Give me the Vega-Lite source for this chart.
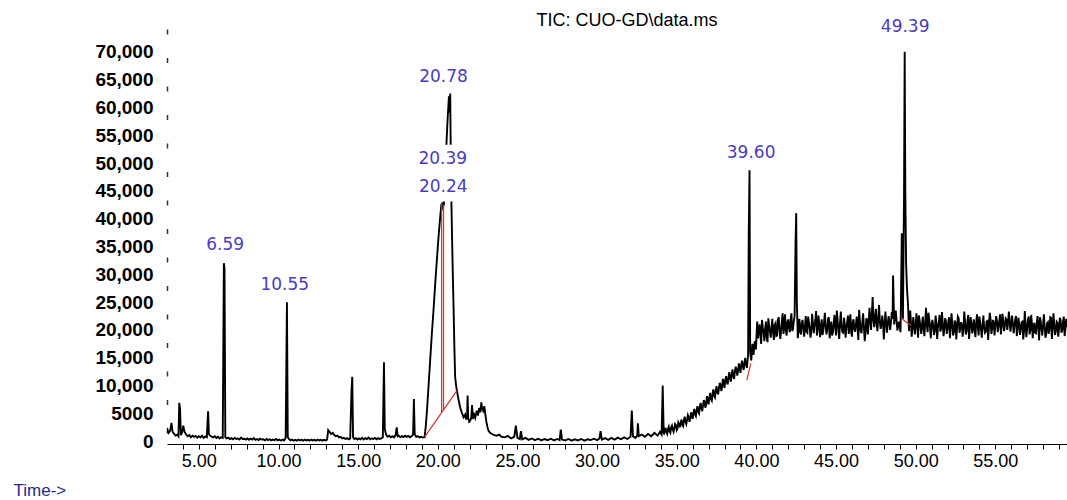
{
  "$schema": "https://vega.github.io/schema/vega-lite/v6.json",
  "width": 900,
  "height": 420,
  "autosize": {"type": "none"},
  "padding": {"left": 167, "top": 24, "right": 0, "bottom": 56},
  "background": "white",
  "config": {"view": {"stroke": null}},
  "title": {
    "text": "TIC: CUO-GD\\data.ms",
    "font": "Liberation Sans",
    "fontSize": 18,
    "fontWeight": "normal",
    "color": "#000000",
    "anchor": "middle",
    "frame": "group",
    "dx": 10,
    "offset": -17
  },
  "datasets": {
    "tic": [
      {"time": 3.00, "abundance": 2400}, {"time": 3.05, "abundance": 1800}, {"time": 3.10, "abundance": 1500}, {"time": 3.20, "abundance": 1900},
      {"time": 3.28, "abundance": 3300}, {"time": 3.35, "abundance": 1700}, {"time": 3.45, "abundance": 1300}, {"time": 3.55, "abundance": 1000},
      {"time": 3.65, "abundance": 1200}, {"time": 3.72, "abundance": 900}, {"time": 3.77, "abundance": 6900}, {"time": 3.82, "abundance": 5800},
      {"time": 3.87, "abundance": 1100}, {"time": 3.95, "abundance": 1600}, {"time": 4.02, "abundance": 2800}, {"time": 4.10, "abundance": 1700},
      {"time": 4.20, "abundance": 1200}, {"time": 4.30, "abundance": 900}, {"time": 4.40, "abundance": 1100}, {"time": 4.50, "abundance": 700},
      {"time": 4.60, "abundance": 1000}, {"time": 4.70, "abundance": 800}, {"time": 4.80, "abundance": 950}, {"time": 4.90, "abundance": 650},
      {"time": 5.00, "abundance": 900}, {"time": 5.10, "abundance": 700}, {"time": 5.20, "abundance": 1000}, {"time": 5.30, "abundance": 600},
      {"time": 5.40, "abundance": 850}, {"time": 5.50, "abundance": 700}, {"time": 5.58, "abundance": 5400}, {"time": 5.63, "abundance": 1300},
      {"time": 5.70, "abundance": 1000}, {"time": 5.80, "abundance": 800}, {"time": 5.90, "abundance": 700}, {"time": 6.00, "abundance": 900},
      {"time": 6.10, "abundance": 600}, {"time": 6.20, "abundance": 800}, {"time": 6.30, "abundance": 500}, {"time": 6.40, "abundance": 700},
      {"time": 6.50, "abundance": 600}, {"time": 6.57, "abundance": 32000}, {"time": 6.61, "abundance": 31000}, {"time": 6.66, "abundance": 700},
      {"time": 6.75, "abundance": 500}, {"time": 6.85, "abundance": 650}, {"time": 6.95, "abundance": 400}, {"time": 7.05, "abundance": 550},
      {"time": 7.15, "abundance": 350}, {"time": 7.25, "abundance": 600}, {"time": 7.35, "abundance": 400}, {"time": 7.45, "abundance": 500},
      {"time": 7.55, "abundance": 300}, {"time": 7.65, "abundance": 650}, {"time": 7.75, "abundance": 400}, {"time": 7.85, "abundance": 450},
      {"time": 7.95, "abundance": 300}, {"time": 8.05, "abundance": 500}, {"time": 8.15, "abundance": 250}, {"time": 8.25, "abundance": 450},
      {"time": 8.35, "abundance": 300}, {"time": 8.45, "abundance": 550}, {"time": 8.55, "abundance": 250}, {"time": 8.65, "abundance": 400},
      {"time": 8.75, "abundance": 200}, {"time": 8.85, "abundance": 450}, {"time": 8.95, "abundance": 300}, {"time": 9.05, "abundance": 350},
      {"time": 9.15, "abundance": 150}, {"time": 9.25, "abundance": 400}, {"time": 9.35, "abundance": 200}, {"time": 9.45, "abundance": 350},
      {"time": 9.55, "abundance": 150}, {"time": 9.65, "abundance": 300}, {"time": 9.75, "abundance": 200}, {"time": 9.85, "abundance": 400},
      {"time": 9.95, "abundance": 150}, {"time": 10.05, "abundance": 300}, {"time": 10.15, "abundance": 100}, {"time": 10.25, "abundance": 300},
      {"time": 10.35, "abundance": 150}, {"time": 10.45, "abundance": 600}, {"time": 10.53, "abundance": 25000}, {"time": 10.58, "abundance": 800},
      {"time": 10.65, "abundance": 400}, {"time": 10.75, "abundance": 150}, {"time": 10.85, "abundance": 300}, {"time": 10.95, "abundance": 100},
      {"time": 11.05, "abundance": 250}, {"time": 11.15, "abundance": 100}, {"time": 11.25, "abundance": 300}, {"time": 11.35, "abundance": 150},
      {"time": 11.45, "abundance": 250}, {"time": 11.55, "abundance": 100}, {"time": 11.65, "abundance": 300}, {"time": 11.75, "abundance": 150},
      {"time": 11.85, "abundance": 250}, {"time": 11.95, "abundance": 100}, {"time": 12.05, "abundance": 300}, {"time": 12.15, "abundance": 150},
      {"time": 12.25, "abundance": 250}, {"time": 12.35, "abundance": 100}, {"time": 12.45, "abundance": 300}, {"time": 12.55, "abundance": 150},
      {"time": 12.65, "abundance": 250}, {"time": 12.75, "abundance": 100}, {"time": 12.85, "abundance": 250}, {"time": 12.95, "abundance": 150},
      {"time": 13.05, "abundance": 300}, {"time": 13.12, "abundance": 2000}, {"time": 13.20, "abundance": 1700}, {"time": 13.30, "abundance": 1300},
      {"time": 13.40, "abundance": 1500}, {"time": 13.50, "abundance": 1100}, {"time": 13.60, "abundance": 900}, {"time": 13.70, "abundance": 1000},
      {"time": 13.80, "abundance": 700}, {"time": 13.90, "abundance": 800}, {"time": 14.00, "abundance": 500}, {"time": 14.10, "abundance": 600},
      {"time": 14.20, "abundance": 400}, {"time": 14.30, "abundance": 550}, {"time": 14.40, "abundance": 350}, {"time": 14.50, "abundance": 500},
      {"time": 14.58, "abundance": 8800}, {"time": 14.63, "abundance": 11600}, {"time": 14.68, "abundance": 700}, {"time": 14.75, "abundance": 400},
      {"time": 14.85, "abundance": 550}, {"time": 14.95, "abundance": 300}, {"time": 15.05, "abundance": 500}, {"time": 15.15, "abundance": 350},
      {"time": 15.25, "abundance": 600}, {"time": 15.35, "abundance": 300}, {"time": 15.45, "abundance": 550}, {"time": 15.55, "abundance": 400},
      {"time": 15.65, "abundance": 650}, {"time": 15.75, "abundance": 350}, {"time": 15.85, "abundance": 500}, {"time": 15.95, "abundance": 400},
      {"time": 16.05, "abundance": 600}, {"time": 16.15, "abundance": 350}, {"time": 16.25, "abundance": 550}, {"time": 16.35, "abundance": 400},
      {"time": 16.45, "abundance": 500}, {"time": 16.55, "abundance": 700}, {"time": 16.62, "abundance": 14200}, {"time": 16.67, "abundance": 2200},
      {"time": 16.75, "abundance": 1200}, {"time": 16.85, "abundance": 800}, {"time": 16.95, "abundance": 1000}, {"time": 17.05, "abundance": 700},
      {"time": 17.15, "abundance": 900}, {"time": 17.25, "abundance": 700}, {"time": 17.35, "abundance": 1100}, {"time": 17.42, "abundance": 2500},
      {"time": 17.48, "abundance": 900}, {"time": 17.55, "abundance": 1000}, {"time": 17.65, "abundance": 700}, {"time": 17.75, "abundance": 900},
      {"time": 17.85, "abundance": 750}, {"time": 17.95, "abundance": 1000}, {"time": 18.05, "abundance": 800}, {"time": 18.15, "abundance": 950},
      {"time": 18.25, "abundance": 700}, {"time": 18.35, "abundance": 900}, {"time": 18.45, "abundance": 1200}, {"time": 18.50, "abundance": 7600},
      {"time": 18.55, "abundance": 1200}, {"time": 18.65, "abundance": 800}, {"time": 18.75, "abundance": 900}, {"time": 18.85, "abundance": 700},
      {"time": 18.95, "abundance": 800}, {"time": 19.05, "abundance": 650}, {"time": 19.17, "abundance": 720},
      {"time": 19.25, "abundance": 2800}, {"time": 19.32, "abundance": 5500}, {"time": 19.42, "abundance": 10000}, {"time": 19.52, "abundance": 14500},
      {"time": 19.62, "abundance": 19000}, {"time": 19.73, "abundance": 23500}, {"time": 19.83, "abundance": 28000}, {"time": 19.94, "abundance": 32500},
      {"time": 20.04, "abundance": 36500}, {"time": 20.15, "abundance": 40300}, {"time": 20.22, "abundance": 42500}, {"time": 20.26, "abundance": 42700},
      {"time": 20.32, "abundance": 42000}, {"time": 20.38, "abundance": 42600}, {"time": 20.45, "abundance": 47000}, {"time": 20.52, "abundance": 52000},
      {"time": 20.60, "abundance": 57000}, {"time": 20.66, "abundance": 60000}, {"time": 20.70, "abundance": 62000}, {"time": 20.74, "abundance": 59000},
      {"time": 20.78, "abundance": 62500}, {"time": 20.80, "abundance": 56000}, {"time": 20.83, "abundance": 48000}, {"time": 20.86, "abundance": 42000},
      {"time": 20.92, "abundance": 33000}, {"time": 20.99, "abundance": 24000}, {"time": 21.04, "abundance": 17000}, {"time": 21.09, "abundance": 11500},
      {"time": 21.15, "abundance": 10000}, {"time": 21.20, "abundance": 9100}, {"time": 21.30, "abundance": 7500}, {"time": 21.40, "abundance": 6100},
      {"time": 21.50, "abundance": 5200}, {"time": 21.62, "abundance": 4300}, {"time": 21.72, "abundance": 4800}, {"time": 21.78, "abundance": 3900},
      {"time": 21.84, "abundance": 4500}, {"time": 21.87, "abundance": 8200}, {"time": 21.91, "abundance": 4100}, {"time": 21.97, "abundance": 3500},
      {"time": 22.03, "abundance": 3700}, {"time": 22.10, "abundance": 4200}, {"time": 22.15, "abundance": 6500}, {"time": 22.20, "abundance": 4000},
      {"time": 22.28, "abundance": 4800}, {"time": 22.35, "abundance": 4200}, {"time": 22.45, "abundance": 5500}, {"time": 22.52, "abundance": 4600},
      {"time": 22.60, "abundance": 6000}, {"time": 22.68, "abundance": 5200}, {"time": 22.73, "abundance": 7000}, {"time": 22.77, "abundance": 6200},
      {"time": 22.85, "abundance": 5500}, {"time": 22.92, "abundance": 6300}, {"time": 22.98, "abundance": 4900}, {"time": 23.05, "abundance": 3500},
      {"time": 23.12, "abundance": 2500}, {"time": 23.18, "abundance": 1900}, {"time": 23.28, "abundance": 1500}, {"time": 23.40, "abundance": 1300},
      {"time": 23.55, "abundance": 1100}, {"time": 23.70, "abundance": 1000}, {"time": 23.85, "abundance": 1200}, {"time": 24.00, "abundance": 800},
      {"time": 24.20, "abundance": 700}, {"time": 24.40, "abundance": 950}, {"time": 24.60, "abundance": 500}, {"time": 24.80, "abundance": 800},
      {"time": 24.90, "abundance": 2800}, {"time": 25.00, "abundance": 600}, {"time": 25.15, "abundance": 400}, {"time": 25.22, "abundance": 1800},
      {"time": 25.30, "abundance": 350}, {"time": 25.50, "abundance": 600}, {"time": 25.70, "abundance": 250}, {"time": 25.90, "abundance": 500},
      {"time": 26.10, "abundance": 200}, {"time": 26.30, "abundance": 450}, {"time": 26.50, "abundance": 150}, {"time": 26.70, "abundance": 400},
      {"time": 26.90, "abundance": 200}, {"time": 27.10, "abundance": 450}, {"time": 27.30, "abundance": 150}, {"time": 27.50, "abundance": 400},
      {"time": 27.65, "abundance": 200}, {"time": 27.72, "abundance": 2100}, {"time": 27.80, "abundance": 300}, {"time": 28.00, "abundance": 150},
      {"time": 28.20, "abundance": 400}, {"time": 28.40, "abundance": 100}, {"time": 28.60, "abundance": 350}, {"time": 28.80, "abundance": 150},
      {"time": 29.00, "abundance": 400}, {"time": 29.20, "abundance": 100}, {"time": 29.40, "abundance": 350}, {"time": 29.60, "abundance": 200},
      {"time": 29.80, "abundance": 450}, {"time": 30.00, "abundance": 200}, {"time": 30.15, "abundance": 500}, {"time": 30.22, "abundance": 1800},
      {"time": 30.30, "abundance": 300}, {"time": 30.50, "abundance": 550}, {"time": 30.70, "abundance": 250}, {"time": 30.90, "abundance": 600},
      {"time": 31.10, "abundance": 300}, {"time": 31.30, "abundance": 650}, {"time": 31.50, "abundance": 350}, {"time": 31.70, "abundance": 700},
      {"time": 31.90, "abundance": 400}, {"time": 32.10, "abundance": 800}, {"time": 32.18, "abundance": 5500}, {"time": 32.25, "abundance": 900},
      {"time": 32.40, "abundance": 600}, {"time": 32.52, "abundance": 1000}, {"time": 32.56, "abundance": 3200}, {"time": 32.62, "abundance": 900},
      {"time": 32.80, "abundance": 1200}, {"time": 33.00, "abundance": 800}, {"time": 33.20, "abundance": 1300}, {"time": 33.40, "abundance": 900},
      {"time": 33.60, "abundance": 1500}, {"time": 33.80, "abundance": 1000}, {"time": 33.95, "abundance": 1700}, {"time": 34.05, "abundance": 1200},
      {"time": 34.12, "abundance": 10000}, {"time": 34.18, "abundance": 1500},
      {"time": 34.20, "abundance": 1400}, {"time": 34.30, "abundance": 2400}, {"time": 34.40, "abundance": 1300}, {"time": 34.50, "abundance": 2600},
      {"time": 34.60, "abundance": 1500}, {"time": 34.70, "abundance": 2800}, {"time": 34.80, "abundance": 1700}, {"time": 34.90, "abundance": 3100},
      {"time": 35.00, "abundance": 2000}, {"time": 35.10, "abundance": 3400}, {"time": 35.20, "abundance": 2500}, {"time": 35.30, "abundance": 3900},
      {"time": 35.40, "abundance": 2700}, {"time": 35.50, "abundance": 4400}, {"time": 35.60, "abundance": 3100}, {"time": 35.70, "abundance": 4700},
      {"time": 35.80, "abundance": 3500}, {"time": 35.90, "abundance": 5200}, {"time": 36.00, "abundance": 4000}, {"time": 36.10, "abundance": 5800},
      {"time": 36.20, "abundance": 4500}, {"time": 36.30, "abundance": 6300}, {"time": 36.40, "abundance": 5000}, {"time": 36.50, "abundance": 6900},
      {"time": 36.60, "abundance": 5400}, {"time": 36.70, "abundance": 7400}, {"time": 36.80, "abundance": 6000}, {"time": 36.90, "abundance": 8100},
      {"time": 37.00, "abundance": 6600}, {"time": 37.10, "abundance": 8700}, {"time": 37.20, "abundance": 7300}, {"time": 37.30, "abundance": 9300},
      {"time": 37.40, "abundance": 7900}, {"time": 37.50, "abundance": 9900}, {"time": 37.60, "abundance": 8400}, {"time": 37.70, "abundance": 10500},
      {"time": 37.80, "abundance": 9000}, {"time": 37.90, "abundance": 11200}, {"time": 38.00, "abundance": 9600}, {"time": 38.10, "abundance": 11700},
      {"time": 38.20, "abundance": 10200}, {"time": 38.30, "abundance": 12400}, {"time": 38.40, "abundance": 10700}, {"time": 38.50, "abundance": 12900},
      {"time": 38.60, "abundance": 11200}, {"time": 38.70, "abundance": 13400}, {"time": 38.80, "abundance": 11800}, {"time": 38.90, "abundance": 14000},
      {"time": 39.00, "abundance": 12300}, {"time": 39.10, "abundance": 14500}, {"time": 39.20, "abundance": 12800}, {"time": 39.30, "abundance": 15000},
      {"time": 39.40, "abundance": 13200}, {"time": 39.48, "abundance": 15500}, {"time": 39.52, "abundance": 37400}, {"time": 39.57, "abundance": 48700},
      {"time": 39.61, "abundance": 16000}, {"time": 39.68, "abundance": 14500}, {"time": 39.75, "abundance": 17500}, {"time": 39.82, "abundance": 15500},
      {"time": 39.90, "abundance": 18000}, {"time": 39.97, "abundance": 16500}, {"time": 40.05, "abundance": 21500},
      {"time": 40.10, "abundance": 18500}, {"time": 40.20, "abundance": 21000}, {"time": 40.30, "abundance": 17500}, {"time": 40.40, "abundance": 20500},
      {"time": 40.50, "abundance": 18000}, {"time": 40.60, "abundance": 21500}, {"time": 40.70, "abundance": 17800}, {"time": 40.80, "abundance": 20800},
      {"time": 40.90, "abundance": 18600}, {"time": 41.00, "abundance": 22000}, {"time": 41.10, "abundance": 18200}, {"time": 41.20, "abundance": 21200},
      {"time": 41.30, "abundance": 19000}, {"time": 41.40, "abundance": 22300}, {"time": 41.50, "abundance": 18400}, {"time": 41.60, "abundance": 21600},
      {"time": 41.70, "abundance": 19300}, {"time": 41.80, "abundance": 22800}, {"time": 41.90, "abundance": 19000}, {"time": 42.00, "abundance": 21900},
      {"time": 42.10, "abundance": 19600}, {"time": 42.20, "abundance": 23000}, {"time": 42.30, "abundance": 20200}, {"time": 42.40, "abundance": 22500},
      {"time": 42.46, "abundance": 35800}, {"time": 42.50, "abundance": 41000}, {"time": 42.54, "abundance": 25000}, {"time": 42.60, "abundance": 18500},
      {"time": 42.70, "abundance": 22000}, {"time": 42.80, "abundance": 19200}, {"time": 42.90, "abundance": 21800}, {"time": 43.00, "abundance": 18800},
      {"time": 43.10, "abundance": 22500}, {"time": 43.20, "abundance": 19500}, {"time": 43.30, "abundance": 21300}, {"time": 43.40, "abundance": 18600},
      {"time": 43.50, "abundance": 22900}, {"time": 43.60, "abundance": 19400}, {"time": 43.70, "abundance": 21700}, {"time": 43.80, "abundance": 19000},
      {"time": 43.90, "abundance": 22600}, {"time": 44.00, "abundance": 18700}, {"time": 44.10, "abundance": 21900}, {"time": 44.20, "abundance": 19800},
      {"time": 44.30, "abundance": 23100}, {"time": 44.40, "abundance": 19200}, {"time": 44.50, "abundance": 22000}, {"time": 44.60, "abundance": 18500},
      {"time": 44.70, "abundance": 21500}, {"time": 44.80, "abundance": 19500}, {"time": 44.90, "abundance": 22700}, {"time": 45.00, "abundance": 19000},
      {"time": 45.10, "abundance": 21800}, {"time": 45.20, "abundance": 18400}, {"time": 45.30, "abundance": 23300}, {"time": 45.40, "abundance": 19600},
      {"time": 45.50, "abundance": 22200}, {"time": 45.60, "abundance": 18600}, {"time": 45.70, "abundance": 21400}, {"time": 45.80, "abundance": 19300},
      {"time": 45.90, "abundance": 22800}, {"time": 46.00, "abundance": 18800}, {"time": 46.10, "abundance": 21900}, {"time": 46.20, "abundance": 19700},
      {"time": 46.30, "abundance": 22400}, {"time": 46.40, "abundance": 18200}, {"time": 46.50, "abundance": 21600}, {"time": 46.60, "abundance": 19400},
      {"time": 46.70, "abundance": 23000}, {"time": 46.80, "abundance": 18000}, {"time": 46.90, "abundance": 22100}, {"time": 47.00, "abundance": 19200},
      {"time": 47.10, "abundance": 24000}, {"time": 47.20, "abundance": 20000}, {"time": 47.30, "abundance": 25900}, {"time": 47.40, "abundance": 20500},
      {"time": 47.50, "abundance": 23800}, {"time": 47.60, "abundance": 19800}, {"time": 47.70, "abundance": 24500}, {"time": 47.80, "abundance": 20200},
      {"time": 47.90, "abundance": 22600}, {"time": 48.00, "abundance": 18300}, {"time": 48.10, "abundance": 23300}, {"time": 48.20, "abundance": 19500},
      {"time": 48.30, "abundance": 22500}, {"time": 48.40, "abundance": 20000}, {"time": 48.50, "abundance": 23200}, {"time": 48.58, "abundance": 29800},
      {"time": 48.65, "abundance": 21000}, {"time": 48.75, "abundance": 23500}, {"time": 48.85, "abundance": 19900}, {"time": 48.95, "abundance": 21500},
      {"time": 49.05, "abundance": 19600}, {"time": 49.13, "abundance": 37400}, {"time": 49.20, "abundance": 22000}, {"time": 49.27, "abundance": 44600},
      {"time": 49.31, "abundance": 70000}, {"time": 49.35, "abundance": 44600}, {"time": 49.40, "abundance": 32000}, {"time": 49.45, "abundance": 27700},
      {"time": 49.52, "abundance": 24500}, {"time": 49.58, "abundance": 19800}, {"time": 49.66, "abundance": 23500}, {"time": 49.75, "abundance": 18800},
      {"time": 49.85, "abundance": 22300}, {"time": 49.95, "abundance": 19200}, {"time": 50.05, "abundance": 23000}, {"time": 50.15, "abundance": 18600},
      {"time": 50.25, "abundance": 21700}, {"time": 50.35, "abundance": 19300}, {"time": 50.45, "abundance": 22400}, {"time": 50.55, "abundance": 18900},
      {"time": 50.65, "abundance": 24000}, {"time": 50.75, "abundance": 19600}, {"time": 50.85, "abundance": 22000}, {"time": 50.95, "abundance": 18500},
      {"time": 51.05, "abundance": 21800}, {"time": 51.15, "abundance": 19100}, {"time": 51.25, "abundance": 22600}, {"time": 51.35, "abundance": 18400},
      {"time": 51.45, "abundance": 21200}, {"time": 51.55, "abundance": 19700}, {"time": 51.65, "abundance": 23200}, {"time": 51.75, "abundance": 18900},
      {"time": 51.85, "abundance": 22100}, {"time": 51.95, "abundance": 19300}, {"time": 52.05, "abundance": 21500}, {"time": 52.15, "abundance": 18500},
      {"time": 52.25, "abundance": 23000}, {"time": 52.35, "abundance": 19000}, {"time": 52.45, "abundance": 21700}, {"time": 52.55, "abundance": 18300},
      {"time": 52.65, "abundance": 22400}, {"time": 52.75, "abundance": 19500}, {"time": 52.85, "abundance": 21400}, {"time": 52.95, "abundance": 18800},
      {"time": 53.05, "abundance": 23300}, {"time": 53.15, "abundance": 19200}, {"time": 53.25, "abundance": 21600}, {"time": 53.35, "abundance": 18400},
      {"time": 53.45, "abundance": 22300}, {"time": 53.55, "abundance": 19400}, {"time": 53.65, "abundance": 21900}, {"time": 53.75, "abundance": 18700},
      {"time": 53.85, "abundance": 22800}, {"time": 53.95, "abundance": 19000}, {"time": 54.05, "abundance": 21300}, {"time": 54.15, "abundance": 18600},
      {"time": 54.25, "abundance": 22600}, {"time": 54.35, "abundance": 19500}, {"time": 54.45, "abundance": 21500}, {"time": 54.55, "abundance": 18200},
      {"time": 54.65, "abundance": 23100}, {"time": 54.75, "abundance": 19300}, {"time": 54.85, "abundance": 21800}, {"time": 54.95, "abundance": 19000},
      {"time": 55.05, "abundance": 22500}, {"time": 55.15, "abundance": 19600}, {"time": 55.25, "abundance": 21700}, {"time": 55.35, "abundance": 19200},
      {"time": 55.45, "abundance": 22900}, {"time": 55.55, "abundance": 19800}, {"time": 55.65, "abundance": 22100}, {"time": 55.75, "abundance": 20000},
      {"time": 55.85, "abundance": 23300}, {"time": 55.95, "abundance": 19700}, {"time": 56.05, "abundance": 22600}, {"time": 56.15, "abundance": 19400},
      {"time": 56.25, "abundance": 21800}, {"time": 56.35, "abundance": 18900}, {"time": 56.45, "abundance": 22200}, {"time": 56.55, "abundance": 19100},
      {"time": 56.65, "abundance": 21400}, {"time": 56.75, "abundance": 18300}, {"time": 56.85, "abundance": 23400}, {"time": 56.95, "abundance": 18700},
      {"time": 57.05, "abundance": 21900}, {"time": 57.15, "abundance": 19200}, {"time": 57.25, "abundance": 22700}, {"time": 57.35, "abundance": 18500},
      {"time": 57.45, "abundance": 21300}, {"time": 57.55, "abundance": 19400}, {"time": 57.65, "abundance": 22500}, {"time": 57.75, "abundance": 18100},
      {"time": 57.85, "abundance": 21600}, {"time": 57.95, "abundance": 19000}, {"time": 58.05, "abundance": 22800}, {"time": 58.15, "abundance": 18600},
      {"time": 58.25, "abundance": 21200}, {"time": 58.35, "abundance": 19300}, {"time": 58.45, "abundance": 22300}, {"time": 58.55, "abundance": 18400},
      {"time": 58.65, "abundance": 23000}, {"time": 58.75, "abundance": 19100}, {"time": 58.85, "abundance": 21500}, {"time": 58.95, "abundance": 18800},
      {"time": 59.05, "abundance": 22200}, {"time": 59.15, "abundance": 19500}, {"time": 59.25, "abundance": 21400}, {"time": 59.35, "abundance": 18900},
      {"time": 59.45, "abundance": 22000}, {"time": 59.50, "abundance": 20500},
      {"time": 34.25, "abundance": 1900}, {"time": 34.35, "abundance": 1600}, {"time": 34.45, "abundance": 2200}, {"time": 34.55, "abundance": 1800},
      {"time": 34.65, "abundance": 2500}, {"time": 34.75, "abundance": 2100}, {"time": 34.85, "abundance": 2400}, {"time": 34.95, "abundance": 2900},
      {"time": 35.05, "abundance": 2300}, {"time": 35.15, "abundance": 3100}, {"time": 35.25, "abundance": 3300}, {"time": 35.35, "abundance": 2900},
      {"time": 35.45, "abundance": 3800}, {"time": 35.55, "abundance": 3500}, {"time": 35.65, "abundance": 3900}, {"time": 35.75, "abundance": 4300},
      {"time": 35.85, "abundance": 4100}, {"time": 35.95, "abundance": 4600}, {"time": 36.05, "abundance": 5100}, {"time": 36.15, "abundance": 4800},
      {"time": 36.25, "abundance": 5600}, {"time": 36.35, "abundance": 5300}, {"time": 36.45, "abundance": 6200}, {"time": 36.55, "abundance": 5900},
      {"time": 36.65, "abundance": 6400}, {"time": 36.75, "abundance": 7000}, {"time": 36.85, "abundance": 6700}, {"time": 36.95, "abundance": 7400},
      {"time": 37.05, "abundance": 7900}, {"time": 37.15, "abundance": 7600}, {"time": 37.25, "abundance": 8500}, {"time": 37.35, "abundance": 8200},
      {"time": 37.45, "abundance": 9100}, {"time": 37.55, "abundance": 8800}, {"time": 37.65, "abundance": 9500}, {"time": 37.75, "abundance": 10100},
      {"time": 37.85, "abundance": 9800}, {"time": 37.95, "abundance": 10600}, {"time": 38.05, "abundance": 11000}, {"time": 38.15, "abundance": 10600},
      {"time": 38.25, "abundance": 11500}, {"time": 38.35, "abundance": 11300}, {"time": 38.45, "abundance": 12000}, {"time": 38.55, "abundance": 11700},
      {"time": 38.65, "abundance": 12500}, {"time": 38.75, "abundance": 12900}, {"time": 38.85, "abundance": 12600}, {"time": 38.95, "abundance": 13300},
      {"time": 39.05, "abundance": 13700}, {"time": 39.15, "abundance": 13400}, {"time": 39.25, "abundance": 14100}, {"time": 39.35, "abundance": 13800},
      {"time": 39.45, "abundance": 14600},
      {"time": 40.15, "abundance": 20000}, {"time": 40.25, "abundance": 19000}, {"time": 40.35, "abundance": 21800}, {"time": 40.45, "abundance": 19600},
      {"time": 40.55, "abundance": 20200}, {"time": 40.65, "abundance": 18600}, {"time": 40.75, "abundance": 22100}, {"time": 40.85, "abundance": 19700},
      {"time": 40.95, "abundance": 20400}, {"time": 41.05, "abundance": 19500}, {"time": 41.15, "abundance": 20900}, {"time": 41.25, "abundance": 18900},
      {"time": 41.35, "abundance": 21700}, {"time": 41.45, "abundance": 20100}, {"time": 41.55, "abundance": 19800}, {"time": 41.65, "abundance": 23000},
      {"time": 41.75, "abundance": 20500}, {"time": 41.85, "abundance": 19900}, {"time": 41.95, "abundance": 21400}, {"time": 42.05, "abundance": 20300},
      {"time": 42.15, "abundance": 21800}, {"time": 42.25, "abundance": 19800}, {"time": 42.35, "abundance": 21600}, {"time": 42.65, "abundance": 20700},
      {"time": 42.75, "abundance": 19600}, {"time": 42.85, "abundance": 21300}, {"time": 42.95, "abundance": 20200}, {"time": 43.05, "abundance": 20600},
      {"time": 43.15, "abundance": 19700}, {"time": 43.25, "abundance": 22400}, {"time": 43.35, "abundance": 20300}, {"time": 43.45, "abundance": 19900},
      {"time": 43.55, "abundance": 21200}, {"time": 43.65, "abundance": 20700}, {"time": 43.75, "abundance": 23400}, {"time": 43.85, "abundance": 20100},
      {"time": 43.95, "abundance": 21000}, {"time": 44.05, "abundance": 20300}, {"time": 44.15, "abundance": 19100}, {"time": 44.25, "abundance": 21500},
      {"time": 44.35, "abundance": 20600}, {"time": 44.45, "abundance": 20000}, {"time": 44.55, "abundance": 22300}, {"time": 44.65, "abundance": 20400},
      {"time": 44.75, "abundance": 19000}, {"time": 44.85, "abundance": 21100}, {"time": 44.95, "abundance": 20600}, {"time": 45.05, "abundance": 23500},
      {"time": 45.15, "abundance": 20000}, {"time": 45.25, "abundance": 21200}, {"time": 45.35, "abundance": 20700}, {"time": 45.45, "abundance": 19500},
      {"time": 45.55, "abundance": 21000}, {"time": 45.65, "abundance": 20300}, {"time": 45.75, "abundance": 22600}, {"time": 45.85, "abundance": 20800},
      {"time": 45.95, "abundance": 19600}, {"time": 46.05, "abundance": 21500}, {"time": 46.15, "abundance": 20200}, {"time": 46.25, "abundance": 21000},
      {"time": 46.35, "abundance": 20500}, {"time": 46.45, "abundance": 23600}, {"time": 46.55, "abundance": 19800}, {"time": 46.65, "abundance": 21300},
      {"time": 46.75, "abundance": 20600}, {"time": 46.85, "abundance": 19400}, {"time": 46.95, "abundance": 21800}, {"time": 47.05, "abundance": 21200},
      {"time": 47.15, "abundance": 22000}, {"time": 47.25, "abundance": 23000}, {"time": 47.35, "abundance": 21700}, {"time": 47.45, "abundance": 22400},
      {"time": 47.55, "abundance": 21000}, {"time": 47.65, "abundance": 22200}, {"time": 47.75, "abundance": 21500}, {"time": 47.85, "abundance": 20900},
      {"time": 47.95, "abundance": 21400}, {"time": 48.05, "abundance": 20800}, {"time": 48.15, "abundance": 21300}, {"time": 48.25, "abundance": 21100},
      {"time": 48.35, "abundance": 21600}, {"time": 48.45, "abundance": 21400}, {"time": 48.55, "abundance": 22000},
      {"time": 50.00, "abundance": 21000}, {"time": 50.10, "abundance": 20600}, {"time": 50.20, "abundance": 22600}, {"time": 50.30, "abundance": 20400},
      {"time": 50.40, "abundance": 21200}, {"time": 50.50, "abundance": 20000}, {"time": 50.60, "abundance": 21500}, {"time": 50.70, "abundance": 20800},
      {"time": 50.80, "abundance": 23100}, {"time": 50.90, "abundance": 20300}, {"time": 51.00, "abundance": 21000}, {"time": 51.10, "abundance": 20700},
      {"time": 51.20, "abundance": 19800}, {"time": 51.30, "abundance": 21400}, {"time": 51.40, "abundance": 20500}, {"time": 51.50, "abundance": 22700},
      {"time": 51.60, "abundance": 20300}, {"time": 51.70, "abundance": 21100}, {"time": 51.80, "abundance": 20200}, {"time": 51.90, "abundance": 21600},
      {"time": 52.00, "abundance": 20100}, {"time": 52.10, "abundance": 22300}, {"time": 52.20, "abundance": 20600}, {"time": 52.30, "abundance": 21000},
      {"time": 52.40, "abundance": 19600}, {"time": 52.50, "abundance": 21300}, {"time": 52.60, "abundance": 20500}, {"time": 52.70, "abundance": 22100},
      {"time": 52.80, "abundance": 20300}, {"time": 52.90, "abundance": 20900}, {"time": 53.00, "abundance": 20200}, {"time": 53.10, "abundance": 21500},
      {"time": 53.20, "abundance": 19800}, {"time": 53.30, "abundance": 22700}, {"time": 53.40, "abundance": 20400}, {"time": 53.50, "abundance": 21100},
      {"time": 53.60, "abundance": 20600}, {"time": 53.70, "abundance": 20000}, {"time": 53.80, "abundance": 21300}, {"time": 53.90, "abundance": 20700},
      {"time": 54.00, "abundance": 22400}, {"time": 54.10, "abundance": 20100}, {"time": 54.20, "abundance": 21000}, {"time": 54.30, "abundance": 20400},
      {"time": 54.40, "abundance": 19700}, {"time": 54.50, "abundance": 21600}, {"time": 54.60, "abundance": 20500}, {"time": 54.70, "abundance": 22000},
      {"time": 54.80, "abundance": 20200}, {"time": 54.90, "abundance": 21300}, {"time": 55.00, "abundance": 20800}, {"time": 55.10, "abundance": 21700},
      {"time": 55.20, "abundance": 20500}, {"time": 55.30, "abundance": 22800}, {"time": 55.40, "abundance": 20900}, {"time": 55.50, "abundance": 21400},
      {"time": 55.60, "abundance": 20800}, {"time": 55.70, "abundance": 21900}, {"time": 55.80, "abundance": 21200}, {"time": 55.90, "abundance": 21600},
      {"time": 56.00, "abundance": 20900}, {"time": 56.10, "abundance": 21300}, {"time": 56.20, "abundance": 20700}, {"time": 56.30, "abundance": 22500},
      {"time": 56.40, "abundance": 20400}, {"time": 56.50, "abundance": 21000}, {"time": 56.60, "abundance": 20200}, {"time": 56.70, "abundance": 21500},
      {"time": 56.80, "abundance": 19700}, {"time": 56.90, "abundance": 20800}, {"time": 57.00, "abundance": 20400}, {"time": 57.10, "abundance": 22400},
      {"time": 57.20, "abundance": 20000}, {"time": 57.30, "abundance": 21100}, {"time": 57.40, "abundance": 20600}, {"time": 57.50, "abundance": 19500},
      {"time": 57.60, "abundance": 21200}, {"time": 57.70, "abundance": 20300}, {"time": 57.80, "abundance": 22300}, {"time": 57.90, "abundance": 20000},
      {"time": 58.00, "abundance": 21000}, {"time": 58.10, "abundance": 20500}, {"time": 58.20, "abundance": 19400}, {"time": 58.30, "abundance": 21400},
      {"time": 58.40, "abundance": 20100}, {"time": 58.50, "abundance": 22200}, {"time": 58.60, "abundance": 20400}, {"time": 58.70, "abundance": 20900},
      {"time": 58.80, "abundance": 19800}, {"time": 58.90, "abundance": 21300}, {"time": 59.00, "abundance": 20300}, {"time": 59.10, "abundance": 21800},
      {"time": 59.20, "abundance": 19900}, {"time": 59.30, "abundance": 22400}, {"time": 59.40, "abundance": 20200}
    ],
    "baselines": [
      {"seg": "a", "time": 19.17, "abundance": 720}, {"seg": "a", "time": 21.20, "abundance": 9100},
      {"seg": "b", "time": 20.24, "abundance": 5100}, {"seg": "b", "time": 20.24, "abundance": 42800},
      {"seg": "c", "time": 20.36, "abundance": 5600}, {"seg": "c", "time": 20.36, "abundance": 42500},
      {"seg": "d", "time": 39.40, "abundance": 11000}, {"seg": "d", "time": 39.65, "abundance": 14000},
      {"seg": "e", "time": 49.13, "abundance": 22000}, {"seg": "e", "time": 49.70, "abundance": 20800}
    ],
    "peaks": [
      {"label": "6.59", "time": 6.65, "abundance": 35300},
      {"label": "10.55", "time": 10.39, "abundance": 28000},
      {"label": "20.78", "time": 20.36, "abundance": 65500},
      {"label": "20.39", "time": 20.31, "abundance": 50700},
      {"label": "20.24", "time": 20.34, "abundance": 45700},
      {"label": "39.60", "time": 39.67, "abundance": 51800},
      {"label": "49.39", "time": 49.34, "abundance": 74400}
    ]
  },
  "encoding": {
    "x": {
      "field": "time",
      "type": "quantitative",
      "scale": {"domain": [3, 59.5], "nice": false, "zero": false},
      "axis": {
        "values": [4, 5, 6, 7, 8, 9, 10, 11, 12, 13, 14, 15, 16, 17, 18, 19, 20, 21, 22, 23, 24, 25, 26, 27, 28, 29, 30, 31, 32, 33, 34, 35, 36, 37, 38, 39, 40, 41, 42, 43, 44, 45, 46, 47, 48, 49, 50, 51, 52, 53, 54, 55, 56, 57, 58, 59],
        "labelExpr": "datum.value % 5 === 0 ? format(datum.value, '.2f') : ''",
        "grid": false,
        "domainColor": "#000000",
        "domainWidth": 1,
        "tickColor": "#000000",
        "tickSize": 5,
        "labelFont": "Liberation Sans",
        "labelFontSize": 18,
        "labelColor": "#000000",
        "labelPadding": 3,
        "labelOverlap": false,
        "title": "Time->",
        "titleFont": "Liberation Sans",
        "titleFontSize": 17,
        "titleFontWeight": "normal",
        "titleColor": "#232a8f",
        "titleX": -154,
        "titleY": 46,
        "titleAlign": "left",
        "titleBaseline": "middle",
        "titleAnchor": "start"
      }
    },
    "y": {
      "field": "abundance",
      "type": "quantitative",
      "scale": {"domain": [-500, 75000], "nice": false, "zero": false},
      "axis": {
        "values": [0, 5000, 10000, 15000, 20000, 25000, 30000, 35000, 40000, 45000, 50000, 55000, 60000, 65000, 70000],
        "labelExpr": "datum.value >= 10000 ? format(datum.value, ',') : format(datum.value, 'd')",
        "grid": false,
        "ticks": false,
        "domainColor": "#333333",
        "domainWidth": 1.5,
        "domainDash": [5, 23.5],
        "domainDashOffset": 17.5,
        "labelFont": "Liberation Sans",
        "labelFontSize": 19,
        "labelFontWeight": "bold",
        "labelColor": "#000000",
        "labelPadding": 14,
        "labelOverlap": false,
        "title": null
      }
    }
  },
  "layer": [
    {
      "data": {"name": "tic"},
      "mark": {"type": "line", "color": "#000000", "strokeWidth": 1.9, "clip": true}
    },
    {
      "data": {"name": "baselines"},
      "mark": {"type": "line", "color": "#cc3333", "strokeWidth": 1.2},
      "encoding": {"detail": {"field": "seg", "type": "nominal"}}
    },
    {
      "data": {"name": "peaks"},
      "mark": {"type": "point", "shape": "M-1,-0.5H1V0.5H-1Z", "size": 3364, "filled": true, "color": "#ffffff", "opacity": 1, "strokeWidth": 0}
    },
    {
      "data": {"name": "peaks"},
      "mark": {"type": "text", "color": "#4a3cc0", "font": "DejaVu Sans", "fontSize": 17, "align": "center", "baseline": "middle"},
      "encoding": {"text": {"field": "label", "type": "nominal"}}
    }
  ]
}
